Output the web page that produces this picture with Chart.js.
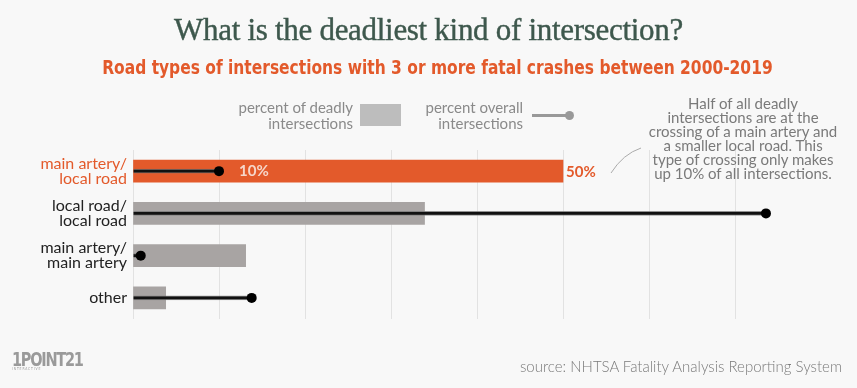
<!DOCTYPE html>
<html>
<head>
<meta charset="utf-8">
<script src="https://cdn.jsdelivr.net/npm/chart.js@4.4.1/dist/chart.umd.min.js"></script>
<style>
  html, body { margin: 0; padding: 0; background: #f8f8f8; }
  #wrap { position: relative; width: 857px; height: 388px; overflow: hidden; font-family: Lato, "Noto Sans", sans-serif; }
  #chart { position: absolute; left: 0; top: 0; }
  .abs { position: absolute; white-space: nowrap; }
  #title { left: 0; width: 857px; top: 12px; text-align: center; font-family: "Liberation Serif", serif; font-size: 31px; color: #3e584d; letter-spacing: -0.3px; -webkit-text-stroke: 0.4px #3e584d; }
  #subtitle { left: 0; width: 857px; top: 55px; text-align: center; font-family: "DejaVu Sans Condensed", sans-serif; font-weight: bold; font-size: 20px; color: #e35a2b; transform: translateX(9px) scaleX(0.86); transform-origin: 428px 0; }
  .leg { color: #8a8a8a; font-size: 15px; line-height: 16px; text-align: right; }
  #note { left: 630px; width: 226px; top: 96px; text-align: center; color: #7a7a7a; font-size: 15px; line-height: 14px; }
  #source { right: 15px; top: 357px; color: #7a7a7a; font-size: 15px; font-weight: 300; }
  #logo { left: 12px; top: 348px; color: #9a9a9a; font-family: "DejaVu Sans Condensed", sans-serif; font-weight: bold; font-size: 19px; letter-spacing: -1.5px; transform: scaleX(0.85); transform-origin: 0 0; }
  #logo small { display: block; font-size: 4px; letter-spacing: 1px; margin-top: -4px; font-weight: normal; }
</style>
</head>
<body>
<div id="wrap">
  <canvas id="chart" width="857" height="388"></canvas>
  <div id="title" class="abs">What is the deadliest kind of intersection?</div>
  <div id="subtitle" class="abs">Road types of intersections with 3 or more fatal crashes between 2000-2019</div>
  <div class="abs leg" style="left:200px; width:153px; top:99px;">percent of deadly<br>intersections</div>
  <div class="abs" style="left:360px; top:104px; width:41px; height:22px; background:#bdbdbd;"></div>
  <div class="abs leg" style="left:380px; width:143px; top:99px;">percent overall<br>intersections</div>
  <div class="abs" style="left:532px; top:114px; width:36px; height:3px; background:#999;"></div>
  <div class="abs" style="left:565px; top:111px; width:9px; height:9px; border-radius:50%; background:#999;"></div>
  <div id="note" class="abs">Half of all deadly<br>intersections are at the<br>crossing of a main artery and<br>a smaller local road. This<br>type of crossing only makes<br>up 10% of all intersections.</div>
  <svg class="abs" style="left:605px; top:140px;" width="50" height="40"><path d="M6 33 Q 18 14 36 8" stroke="#aaa" stroke-width="1" fill="none"/></svg>
  <div id="logo" class="abs">1POINT21<small>INTERACTIVE</small></div>
  <div id="source" class="abs">source: NHTSA Fatality Analysis Reporting System</div>
</div>
<script>
// Data
const categories = [['main artery/', 'local road'], ['local road/', 'local road'], ['main artery/', 'main artery'], ['other']];
const deadlyPct = [50, 33.9, 13.1, 3.8];
const overallPct = [10, 73.6, 0.9, 13.8];
const axisMax = 80;

const orange = '#e35a2b';
const barColors = ['#e35a2b', '#a8a4a3', '#a8a4a3', '#a8a4a3'];

// draws the "10%" and "50%" callouts on the highlighted row
const valueLabels = {
    id: 'valueLabels',
    afterDatasetsDraw(chart) {
        const ctx = chart.ctx;
        const xs = chart.scales.x, ys = chart.scales.y;
        const y = ys.getPixelForValue(0);
        ctx.save();
        ctx.font = 'bold 15px Lato, sans-serif';
        ctx.textBaseline = 'middle';
        ctx.fillStyle = '#f6d6ca';
        ctx.fillText(overallPct[0] + '%', xs.getPixelForValue(overallPct[0]) + 20, y);
        ctx.fillStyle = orange;
        ctx.fillText(deadlyPct[0] + '%', xs.getPixelForValue(deadlyPct[0]) + 3, y + 1);
        ctx.restore();
    }
};

new Chart(document.getElementById('chart'), {
    type: 'bar',
    data: {
        labels: categories,
        datasets: [{
            label: 'percent of deadly intersections',
            data: deadlyPct,
            backgroundColor: barColors,
            barThickness: 22,
            grouped: false,
            order: 3
        }, {
            label: 'overall stem',
            data: overallPct,
            backgroundColor: '#111',
            borderColor: 'rgba(120,120,120,0.8)',
            borderWidth: { top: 1, bottom: 1, left: 0, right: 0 },
            borderSkipped: false,
            barThickness: 4,
            grouped: false,
            order: 2
        }, {
            type: 'line',
            label: 'percent overall intersections',
            data: overallPct,
            indexAxis: 'y',
            showLine: false,
            pointRadius: 5,
            pointBackgroundColor: '#000',
            pointBorderWidth: 0,
            order: 1
        }]
    },
    options: {
        indexAxis: 'y',
        responsive: false,
        animation: false,
        layout: { padding: { top: 150, bottom: 69, right: 36, left: 0 } },
        plugins: { legend: { display: false }, tooltip: { enabled: false } },
        scales: {
            x: {
                min: 0, max: axisMax,
                ticks: { display: false, stepSize: 10 },
                border: { display: false },
                grid: {
                    color: (c) => c.tick && c.tick.value === axisMax ? 'rgba(0,0,0,0)' : '#e2e2e2',
                    drawTicks: false
                },
                afterFit(s) { s.height = 0; }
            },
            y: {
                border: { display: false },
                grid: { display: false, drawTicks: false },
                ticks: {
                    padding: 6,
                    font: { family: 'Lato, sans-serif', size: 16, lineHeight: 0.95 },
                    color: (c) => c.index === 0 ? orange : '#222'
                },
                afterFit(s) { s.width = 133; }
            }
        }
    },
    plugins: [valueLabels]
});
</script>
</body>
</html>
